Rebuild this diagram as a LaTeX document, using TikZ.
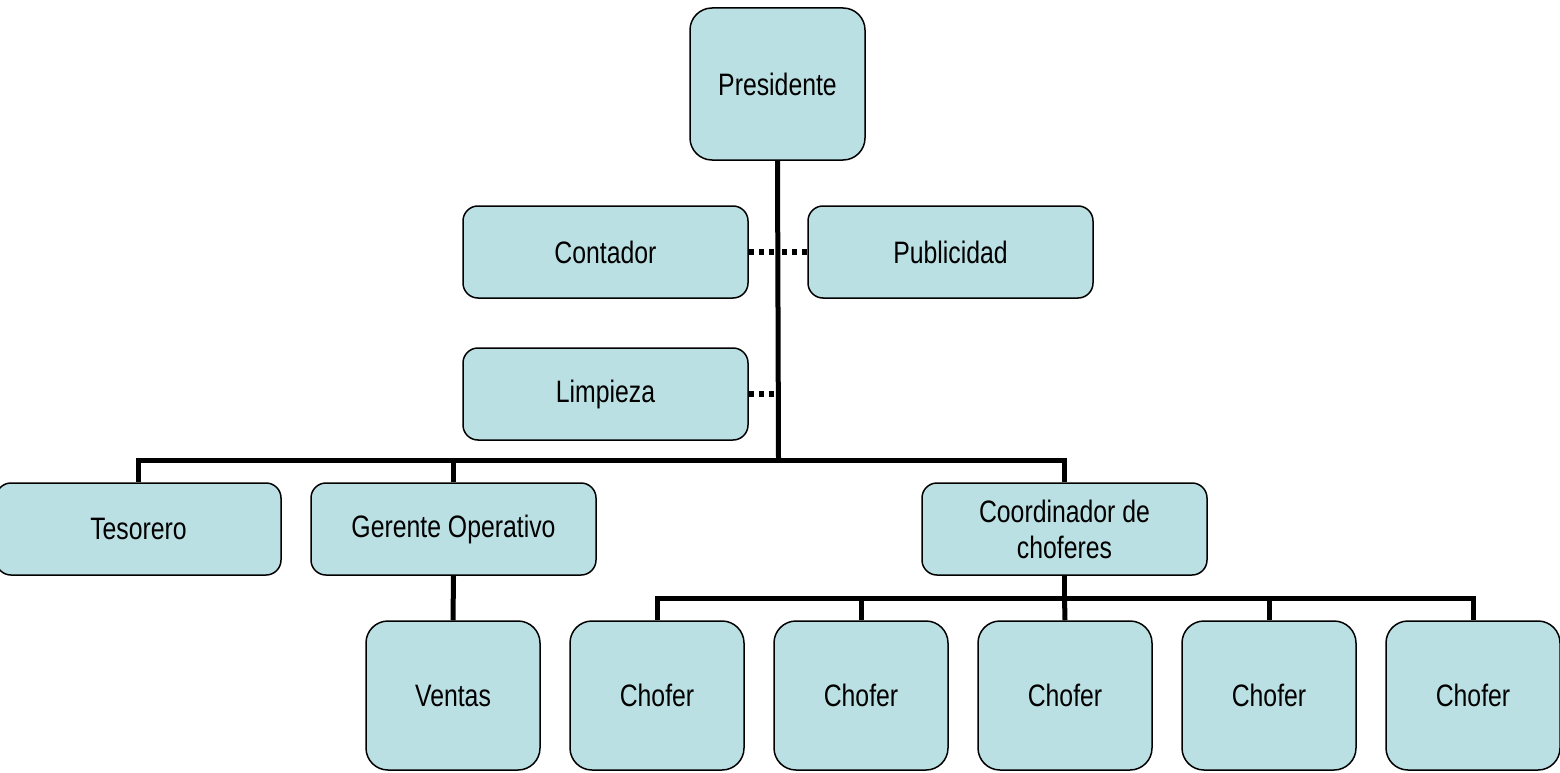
\documentclass[tikz,border=0pt]{standalone}
\usepackage{fontspec}
\setmainfont{Liberation Sans}[FakeStretch=0.8]
\definecolor{boxfill}{HTML}{BBE0E3}
\begin{document}
\begin{tikzpicture}[x=1pt,y=-1pt,
  box/.style={draw=black,fill=boxfill,line width=1.5pt,inner sep=0pt,align=center,
    font=\fontsize{31}{36}\selectfont},
  wide/.style={box,rounded corners=15pt,minimum width=285pt,minimum height=92pt},
  tall/.style={box,rounded corners=22pt,minimum width=174pt,minimum height=149pt},
  conn/.style={line width=5pt,black},
  dots/.style={line width=6pt,black,dash pattern=on 5pt off 5pt}]
\useasboundingbox (0,0) rectangle (1560,773);
\node[box,rounded corners=22pt,minimum width=175pt,minimum height=152pt] (pres) at (777.5,84) {Presidente};
\node[wide] (cont) at (605.5,252) {Contador};
\node[wide] (pub) at (950.5,252) {Publicidad};
\node[wide] (limp) at (605.5,394) {Limpieza};
\node[wide] (tes) at (138.5,529) {Tesorero};
\node[wide] (ger) at (453.5,529) {Gerente Operativo};
\node[wide] (coord) at (1064.5,529) {Coordinador de\\choferes};
\node[tall] (ven) at (453,695.5) {Ventas};
\node[tall] (ch1) at (657,695.5) {Chofer};
\node[tall] (ch2) at (861,695.5) {Chofer};
\node[tall] (ch3) at (1065,695.5) {Chofer};
\node[tall] (ch4) at (1269,695.5) {Chofer};
\node[tall] (ch5) at (1473,695.5) {Chofer};
\coordinate (b0) at (778.5,460);
\coordinate (b1) at (1064.5,598);
\coordinate (t1) at (778.5,252);
\coordinate (t2) at (778.5,394);
\begin{scope}[on background layer/.try]
\draw[conn] (pres.south) -- (b0);
\draw[conn] (tes.north) |- (b0);
\draw[conn] (ger.north) |- (b0);
\draw[conn] (coord.north) |- (b0);
\draw[conn] (ger.south) -- (ven.north);
\draw[conn] (coord.south) -- (b1);
\draw[conn] (ch1.north) |- (b1);
\draw[conn] (ch2.north) |- (b1);
\draw[conn] (ch3.north) -- (b1);
\draw[conn] (ch4.north) |- (b1);
\draw[conn] (ch5.north) |- (b1);
\draw[dots] (cont.east) -- (t1);
\draw[dots] (pub.west) -- (t1);
\draw[dots] (limp.east) -- (t2);
\end{scope}
\end{tikzpicture}
\end{document}
